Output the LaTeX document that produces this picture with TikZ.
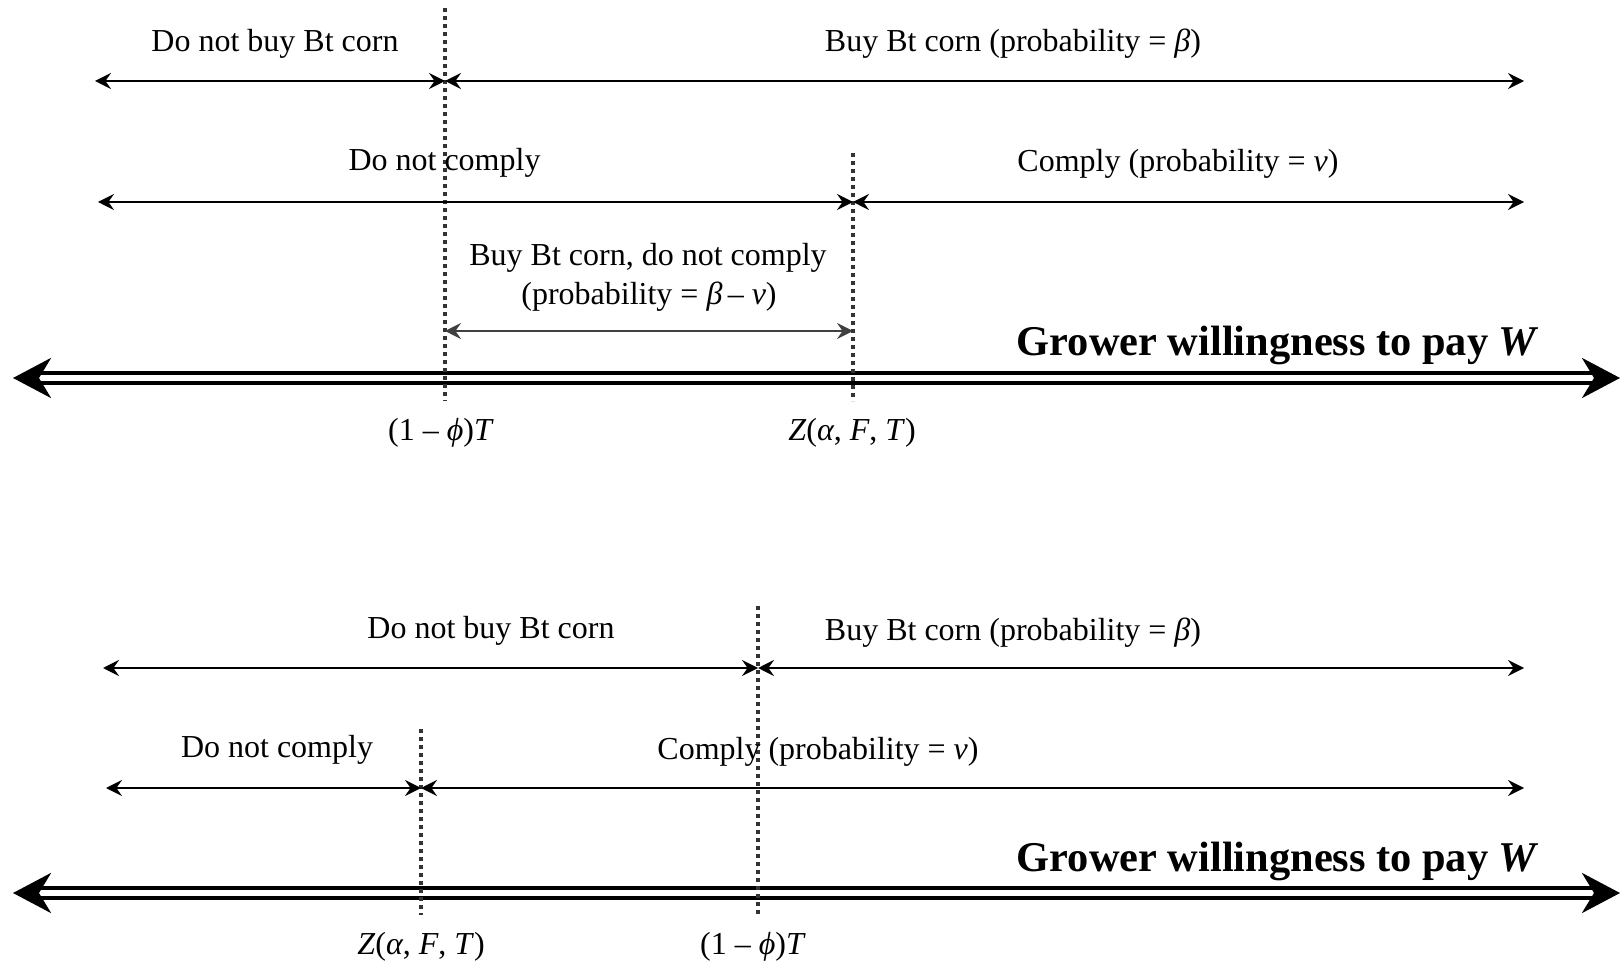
\documentclass[tikz,border=0pt]{standalone}
\usepackage{fontspec}
\setmainfont{Liberation Serif}
\usetikzlibrary{arrows.meta}
\begin{document}
\begin{tikzpicture}[x=0.5pt,y=-0.5pt,
  lbl/.style={font=\fontsize{16}{19.5}\selectfont, inner sep=0pt, anchor=base, align=center},
  ttl/.style={font=\fontsize{21.2}{24}\selectfont\bfseries, inner sep=0pt, anchor=base},
  smalltip/.tip={Stealth[length=8pt,width=8pt,inset=2.8pt]},
  bigtip/.tip={Stealth[length=19pt,width=20pt,inset=6pt]},
  span/.style={line width=1pt, smalltip-smalltip},
  greyspan/.style={line width=0.8pt, draw=black!75, smalltip-smalltip},
  axisline/.style={line width=2pt, double distance=2.6pt, bigtip-bigtip},
  dotline/.style={line width=1.8pt, dash pattern=on 1.8pt off 2.2pt, draw=black!80},
]
\useasboundingbox (0,0) rectangle (1621,961);

% ---------- top panel ----------
\coordinate (aL) at (13,378);
\coordinate (aR) at (1620,378);
\draw[axisline] (aL) -- (aR);

\coordinate (d1t) at (445,8);   \coordinate (d1b) at (445,401);
\coordinate (d2t) at (853,153); \coordinate (d2b) at (853,401);
\draw[dotline] (d1t) -- (d1b);
\draw[dotline] (d2t) -- (d2b);

\coordinate (r1L) at (95,81);  \coordinate (r1M) at (445,81);  \coordinate (r1R) at (1524,81);
\draw[span] (r1L) -- (r1M);
\draw[span] (r1M) -- (r1R);

\coordinate (r2L) at (98,202); \coordinate (r2M) at (853,202); \coordinate (r2R) at (1524,202);
\draw[span] (r2L) -- (r2M);
\draw[span] (r2M) -- (r2R);

\coordinate (r3L) at (445,331); \coordinate (r3R) at (853,331);
\draw[greyspan] (r3L) -- (r3R);

\node[lbl] (tA) at (275,51.5) {Do not buy Bt corn};
\node[lbl] (tB) at (1013,52) {Buy Bt corn (probability = \textit{β})};
\node[lbl] (tC) at (444.5,170.5) {Do not comply};
\node[lbl] (tD) at (1178,172) {Comply (probability = \textit{ν})};
\node[lbl] (tE) at (648,265.5) {Buy Bt corn, do not comply};
\node[lbl] (tF) at (649,305) {(probability = \textit{β}\,– \textit{ν})};
\node[ttl] (tG) at (1278,356) {Grower willingness to pay \textit{W}};
\node[lbl] (tH) at (441,440.5) {(1 – \textit{ϕ})\textit{T}};
\node[lbl] (tI) at (852,440.5) {\textit{Z}(\textit{α}, \textit{F}, \textit{T})};

% ---------- bottom panel ----------
\coordinate (bL) at (13,893);
\coordinate (bR) at (1620,893);
\draw[axisline] (bL) -- (bR);

\coordinate (e1t) at (758,606); \coordinate (e1b) at (758,915);
\coordinate (e2t) at (421,729); \coordinate (e2b) at (421,915);
\draw[dotline] (e1t) -- (e1b);
\draw[dotline] (e2t) -- (e2b);

\coordinate (s1L) at (103,668); \coordinate (s1M) at (758,668); \coordinate (s1R) at (1524,668);
\draw[span] (s1L) -- (s1M);
\draw[span] (s1M) -- (s1R);

\coordinate (s2L) at (106,788); \coordinate (s2M) at (421,788); \coordinate (s2R) at (1524,788);
\draw[span] (s2L) -- (s2M);
\draw[span] (s2M) -- (s2R);

\node[lbl] (uA) at (491,638.5) {Do not buy Bt corn};
\node[lbl] (uB) at (1013,640) {Buy Bt corn (probability = \textit{β})};
\node[lbl] (uC) at (277,757.5) {Do not comply};
\node[lbl] (uD) at (818,759.5) {Comply (probability = \textit{ν})};
\node[ttl] (uG) at (1278,871) {Grower willingness to pay \textit{W}};
\node[lbl] (uH) at (421,954.5) {\textit{Z}(\textit{α}, \textit{F}, \textit{T})};
\node[lbl] (uI) at (753,954.5) {(1 – \textit{ϕ})\textit{T}};
\end{tikzpicture}
\end{document}
